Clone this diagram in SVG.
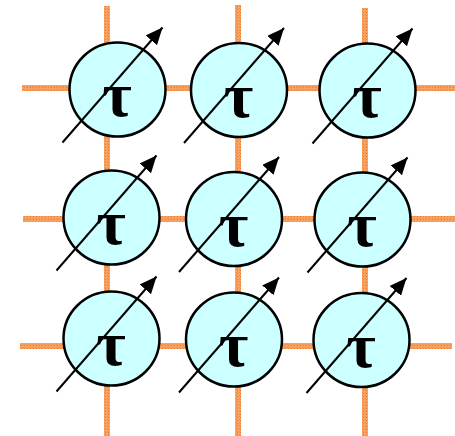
<svg xmlns="http://www.w3.org/2000/svg" width="455" height="436" viewBox="0 0 455 436">
<style>
.bond{stroke:url(#tex);stroke-width:6;fill:none}
.spin ellipse{fill:#CCFFFF;stroke:#000;stroke-width:2.5}
.spin line{stroke:#000;stroke-width:2;marker-end:url(#ah)}
.spin text{font-family:"Liberation Serif","Times New Roman",serif;font-size:64px;font-weight:bold;text-anchor:middle;fill:#000}
</style>
<defs>
<pattern id="tex" patternUnits="userSpaceOnUse" width="3" height="3">
<rect width="3" height="3" fill="#F8A262"/>
<rect width="1" height="1" fill="#EE7826"/>
<rect x="2" y="2" width="1" height="1" fill="#F38C42"/>
</pattern>
<marker id="ah" markerUnits="userSpaceOnUse" viewBox="0 0 17 15" refX="17" refY="7.5" markerWidth="17" markerHeight="15" orient="auto">
<path d="M0,0L17,7.5L0,15Z" fill="#000"/>
</marker>
</defs>
<g id="bonds">
<line class="bond" x1="22" y1="88" x2="455" y2="88"/>
<line class="bond" x1="23" y1="219" x2="455" y2="219"/>
<line class="bond" x1="20" y1="346" x2="452" y2="346"/>
<line class="bond" x1="107" y1="6" x2="107" y2="436"/>
<line class="bond" x1="238" y1="5" x2="238" y2="436"/>
<line class="bond" x1="365" y1="8" x2="365" y2="436"/>
</g>
<g id="n11" class="spin"><ellipse cx="117.5" cy="89.5" rx="48" ry="47"/><line x1="62.5" y1="142.5" x2="162.5" y2="27.5"/><text x="117" y="116">τ</text></g>
<g id="n12" class="spin"><ellipse cx="239" cy="90" rx="48" ry="47"/><line x1="184" y1="143" x2="284" y2="28"/><text x="238.5" y="116.5">τ</text></g>
<g id="n13" class="spin"><ellipse cx="367.5" cy="90.5" rx="48" ry="47"/><line x1="312.5" y1="143.5" x2="412.5" y2="28.5"/><text x="367" y="117">τ</text></g>
<g id="n21" class="spin"><ellipse cx="111.5" cy="217.5" rx="48" ry="47"/><line x1="56.5" y1="270.5" x2="156.5" y2="155.5"/><text x="111" y="244">τ</text></g>
<g id="n22" class="spin"><ellipse cx="234" cy="219" rx="48" ry="47"/><line x1="179" y1="272" x2="279" y2="157"/><text x="233.5" y="245.5">τ</text></g>
<g id="n23" class="spin"><ellipse cx="362.5" cy="219.5" rx="48" ry="47"/><line x1="307.5" y1="272.5" x2="407.5" y2="157.5"/><text x="362" y="246">τ</text></g>
<g id="n31" class="spin"><ellipse cx="111.5" cy="338.5" rx="48" ry="47"/><line x1="56.5" y1="391.5" x2="156.5" y2="276.5"/><text x="111" y="365">τ</text></g>
<g id="n32" class="spin"><ellipse cx="234" cy="339.5" rx="48" ry="47"/><line x1="179" y1="392.5" x2="279" y2="277.5"/><text x="233.5" y="366">τ</text></g>
<g id="n33" class="spin"><ellipse cx="361.5" cy="340" rx="48" ry="47"/><line x1="306.5" y1="393" x2="406.5" y2="278"/><text x="361" y="366.5">τ</text></g>
</svg>
